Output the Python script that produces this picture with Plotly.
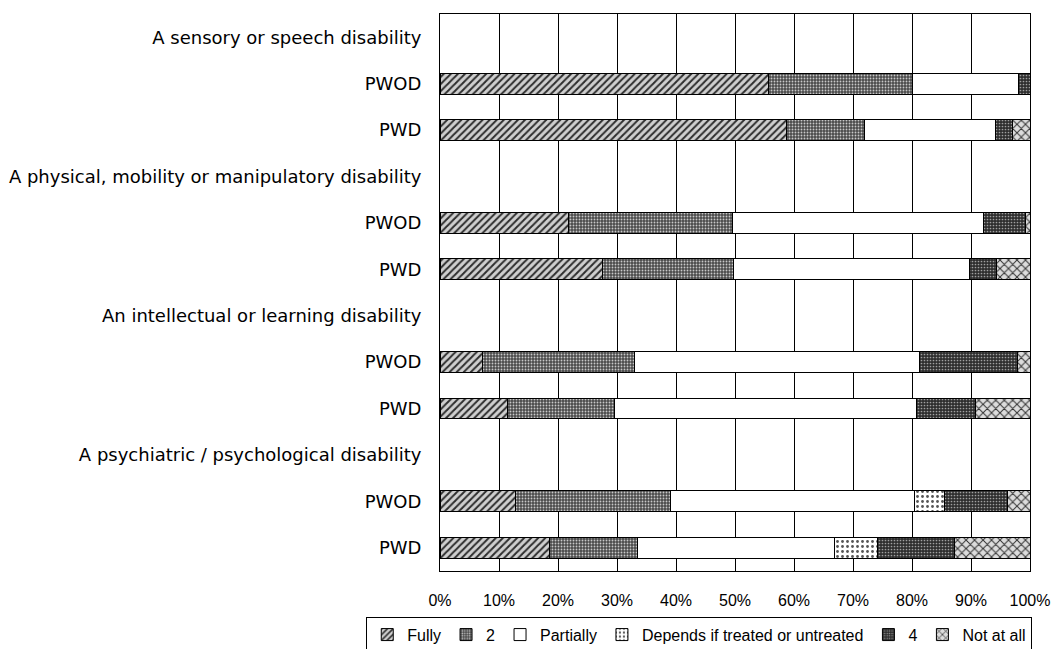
import plotly.graph_objects as go

# Row labels, top to bottom (group headers carry no bars)
row_labels = [
    "A sensory or speech disability", "PWOD", "PWD",
    "A physical, mobility or manipulatory disability", "PWOD", "PWD",
    "An intellectual or learning disability", "PWOD", "PWD",
    "A psychiatric / psychological disability", "PWOD", "PWD",
]
# Rows that carry bars (index into row_labels)
bar_rows = [1, 2, 4, 5, 7, 8, 10, 11]

series_names = ["Fully", "2", "Partially", "Depends if treated or untreated", "4", "Not at all"]

# Percentages per bar row, in the order of bar_rows
fully = [55.6, 58.8, 21.8, 27.5, 7.2, 11.5, 12.8, 18.6]
two = [24.4, 13.2, 27.7, 22.2, 25.8, 18.0, 26.2, 14.9]
partially = [18.1, 22.2, 42.7, 40.0, 48.3, 51.2, 41.4, 33.3]
depends = [0.0, 0.0, 0.0, 0.0, 0.0, 0.0, 5.1, 7.4]
four = [1.9, 2.9, 7.1, 4.6, 16.5, 10.0, 10.7, 13.0]
not_at_all = [0.0, 2.9, 0.7, 5.7, 2.2, 9.3, 3.8, 12.8]

series_values = [fully, two, partially, depends, four, not_at_all]

x_ticks = list(range(0, 101, 10))

# Monochrome fill styles for each response category
styles = [
    dict(bgcolor="#cfcfcf", fgcolor="#2e2e2e", shape="/", size=5, solidity=0.4),
    dict(bgcolor="#4a4a4a", fgcolor="#c8c8c8", shape=".", size=3, solidity=0.3),
    dict(bgcolor="#ffffff", fgcolor="#ffffff", shape="", size=8, solidity=0.3),
    dict(bgcolor="#ffffff", fgcolor="#555555", shape=".", size=5, solidity=0.25),
    dict(bgcolor="#2e2e2e", fgcolor="#a0a0a0", shape=".", size=3, solidity=0.25),
    dict(bgcolor="#dcdcdc", fgcolor="#333333", shape="x", size=6, solidity=0.3),
]

fig = go.Figure()
for name, vals, st in zip(series_names, series_values, styles):
    fig.add_trace(go.Bar(
        name=name,
        x=vals,
        y=bar_rows,
        orientation="h",
        marker=dict(
            color=st["bgcolor"],
            line=dict(color="#000000", width=1),
            pattern=dict(shape=st["shape"], fgcolor=st["fgcolor"], bgcolor=st["bgcolor"],
                         size=st["size"], solidity=st["solidity"], fillmode="replace"),
        ),
        hoverinfo="skip",
    ))

fig.update_layout(
    barmode="stack",
    bargap=0.55,
    width=1058,
    height=649,
    margin=dict(l=440, r=28, t=14, b=78, autoexpand=False),
    paper_bgcolor="white",
    plot_bgcolor="white",
    font=dict(family="Liberation Sans, Arial, sans-serif", color="#000000"),
    legend=dict(
        orientation="h",
        x=-0.125, y=-0.082, xanchor="left", yanchor="top",
        bordercolor="#000000", borderwidth=1, bgcolor="white",
        font=dict(size=16, family="Liberation Sans, Arial, sans-serif"),
        traceorder="normal",
        itemwidth=30,
    ),
    xaxis=dict(
        range=[0, 100],
        tickvals=x_ticks,
        ticktext=[f"{v}%" for v in x_ticks],
        showgrid=True, gridcolor="#000000", gridwidth=1,
        showline=True, linecolor="#000000", linewidth=1, mirror=True,
        zeroline=False,
        ticks="", ticklabelstandoff=15,
        tickfont=dict(size=16, family="Liberation Sans, Arial, sans-serif"),
        fixedrange=True,
    ),
    yaxis=dict(
        range=[11.5, -0.5],
        tickvals=list(range(len(row_labels))),
        ticktext=row_labels,
        showgrid=False,
        showline=True, linecolor="#000000", linewidth=1, mirror=True,
        zeroline=False,
        ticks="", ticklabelstandoff=14,
        tickfont=dict(size=18, family="DejaVu Sans, sans-serif"),
        fixedrange=True,
    ),
)

fig.write_html("out.html")
